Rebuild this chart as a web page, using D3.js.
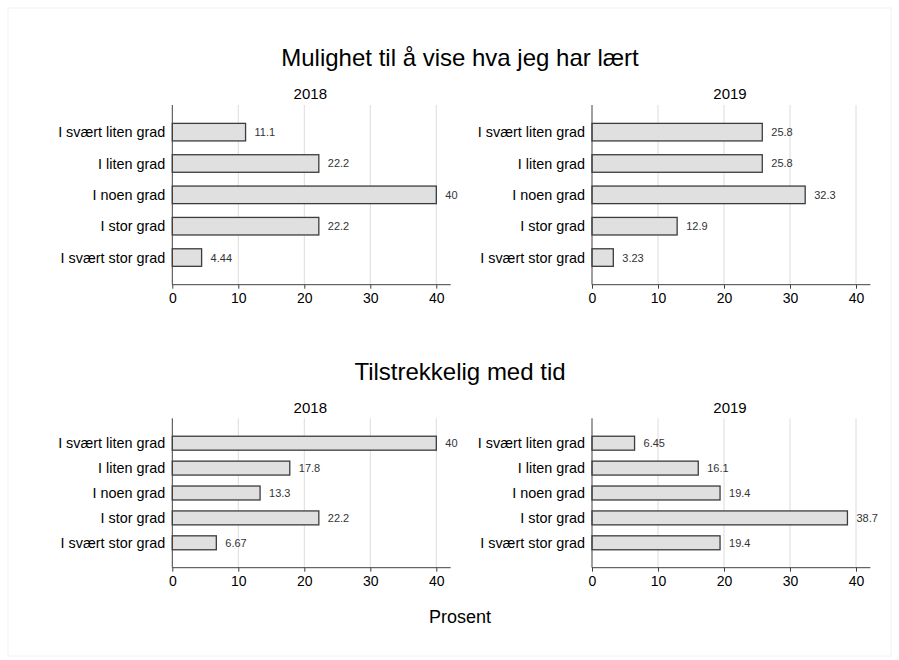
<!DOCTYPE html>
<html><head><meta charset="utf-8">
<script src="https://cdn.jsdelivr.net/npm/d3@7"></script>
<style>body{margin:0;background:#fff;}text{font-family:"Liberation Sans",Arial,sans-serif;}</style>
</head><body>
<svg id="c" width="899" height="660"></svg>
<script>
const categories = ["I svært liten grad","I liten grad","I noen grad","I stor grad","I svært stor grad"];
const years = ["2018","2019"];
const titles = ["Mulighet til å vise hva jeg har lært","Tilstrekkelig med tid"];
const mulighet2018 = [11.1,22.2,40,22.2,4.44];
const mulighet2019 = [25.8,25.8,32.3,12.9,3.23];
const tid2018 = [40,17.8,13.3,22.2,6.67];
const tid2019 = [6.45,16.1,19.4,38.7,19.4];
const labels = {m18:["11.1","22.2","40","22.2","4.44"],m19:["25.8","25.8","32.3","12.9","3.23"],t18:["40","17.8","13.3","22.2","6.67"],t19:["6.45","16.1","19.4","38.7","19.4"]};
const xTicks = [0,10,20,30,40];
const xLabel = "Prosent";

const svg = d3.select("#c");
svg.append("rect").attr("x",8).attr("y",8).attr("width",883).attr("height",648)
  .attr("fill","none").attr("stroke","#f2f2f2");

const rows = [
  {title:titles[0], titleY:66, yearY:99, top:105, bottom:284.7, pad:0.866,
   panels:[{vals:mulighet2018, lab:labels.m18},{vals:mulighet2019, lab:labels.m19}]},
  {title:titles[1], titleY:380, yearY:413, top:418.3, bottom:567.7, pad:1.0,
   panels:[{vals:tid2018, lab:labels.t18},{vals:tid2019, lab:labels.t19}]}
];
const panelX = [172.3, 592];
const xMaxPix = 278.4;

rows.forEach(row=>{
  svg.append("text").attr("x",460).attr("y",row.titleY).attr("text-anchor","middle")
    .attr("font-size",24).attr("fill","#000").text(row.title);
  row.panels.forEach((p,pi)=>{
    const x0 = panelX[pi];
    const x = d3.scaleLinear().domain([0,42.18]).range([x0, x0+xMaxPix]);
    const y = d3.scalePoint().domain(categories).range([row.top,row.bottom]).padding(row.pad);
    const step = y.step();
    const bh = step*0.56;
    const g = svg.append("g");
    g.append("text").attr("x",x(20)+6).attr("y",row.yearY).attr("text-anchor","middle")
      .attr("font-size",15).attr("fill","#000").text(years[pi]);
    g.selectAll(".grid").data(xTicks.slice(1)).join("line")
      .attr("x1",d=>x(d)).attr("x2",d=>x(d)).attr("y1",row.top).attr("y2",row.bottom)
      .attr("stroke","#dcdcdc").attr("stroke-width",1);
    g.selectAll(".bar").data(p.vals).join("rect")
      .attr("x",x(0)).attr("y",(d,i)=>y(categories[i])-bh/2)
      .attr("width",d=>x(d)-x(0)).attr("height",bh)
      .attr("fill","#e0e0e0").attr("stroke","#3c3c3c").attr("stroke-width",1.3);
    g.selectAll(".vl").data(p.vals).join("text")
      .attr("x",d=>x(d)+9).attr("y",(d,i)=>y(categories[i])+4)
      .attr("font-size",11).attr("fill","#333").text((d,i)=>p.lab[i]);
    const ya = g.append("g").attr("transform",`translate(${x0},0)`)
      .call(d3.axisLeft(y).tickSize(0).tickPadding(7));
    ya.select(".domain").remove();
    ya.append("line").attr("x1",0).attr("x2",0).attr("y1",row.top).attr("y2",row.bottom).attr("stroke","#404040");
    ya.selectAll(".tick text").attr("font-size",14.4).attr("fill","#000")
      .style("font-family",'"Liberation Sans",Arial,sans-serif');
    const xa = g.append("g").attr("transform",`translate(0,${row.bottom})`)
      .call(d3.axisBottom(x).tickValues(xTicks).tickSize(4).tickPadding(4).tickFormat(d3.format("d")));
    xa.select(".domain").attr("stroke","#404040").attr("d",`M${x0},0H${x0+xMaxPix}`);
    xa.selectAll(".tick line").attr("stroke","#404040");
    xa.selectAll(".tick text").attr("font-size",14).attr("fill","#000")
      .style("font-family",'"Liberation Sans",Arial,sans-serif');
  });
});
svg.append("text").attr("x",460).attr("y",623).attr("text-anchor","middle")
  .attr("font-size",18).attr("fill","#000").text(xLabel);
</script>
</body></html>
